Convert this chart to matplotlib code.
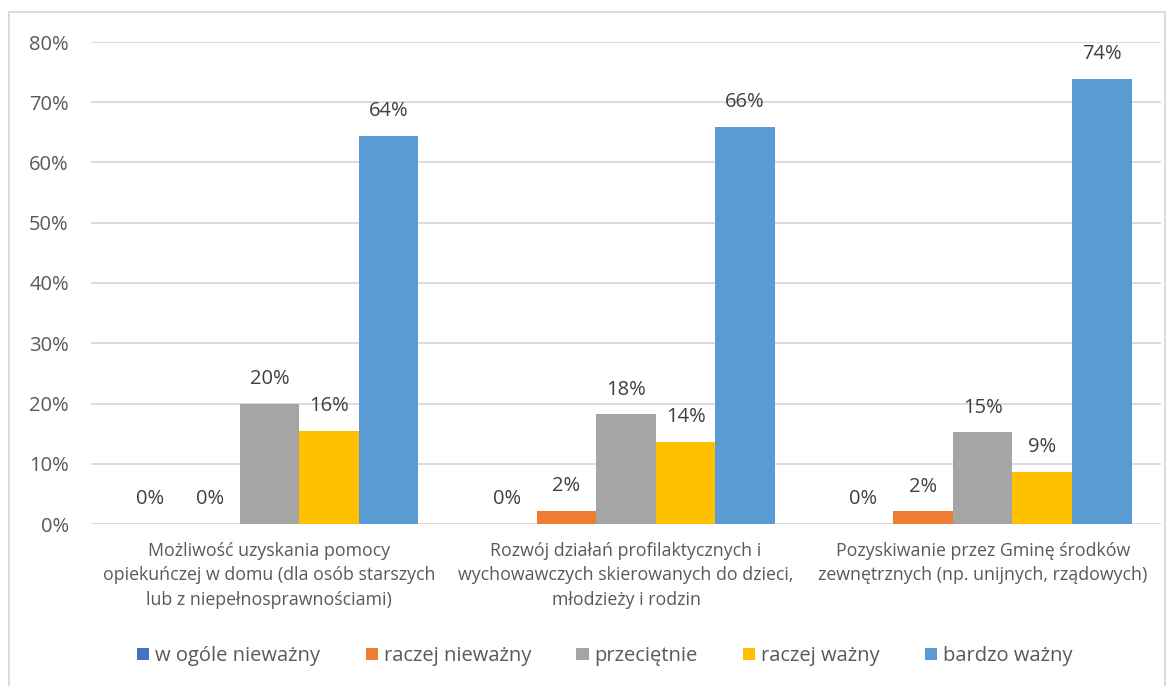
import matplotlib.pyplot as plt
import numpy as np
from matplotlib.patches import Rectangle

categories = [
    "Możliwość uzyskania pomocy\nopiekuńczej w domu (dla osób starszych\nlub z niepełnosprawnościami)",
    "Rozwój działań profilaktycznych i\nwychowawczych skierowanych do dzieci,\nmłodzieży i rodzin",
    "Pozyskiwanie przez Gminę środków\nzewnętrznych (np. unijnych, rządowych)",
]
series = ["w ogóle nieważny", "raczej nieważny", "przeciętnie", "raczej ważny", "bardzo ważny"]
values = [
    [0.0, 0.0, 0.0],        # w ogóle nieważny
    [0.0, 2.2, 2.1],        # raczej nieważny
    [20.0, 18.2, 15.2],     # przeciętnie
    [15.5, 13.6, 8.7],      # raczej ważny
    [64.4, 65.9, 73.9],     # bardzo ważny
]
colors = ["#4472C4", "#ED7D31", "#A5A5A5", "#FFC000", "#5B9BD5"]

plt.rcParams['font.family'] = ['Open Sans', 'DejaVu Sans']

fig = plt.figure(figsize=(11.73, 6.86), dpi=100)
# plot area: x 91..1161 px, y 42..524 px
ax = fig.add_axes([91 / 1173, 1 - 524 / 686, 1070 / 1173, 482 / 686])

x = np.arange(len(categories))
w = 0.167
for i, (name, vals, c) in enumerate(zip(series, values, colors)):
    pos = x + (i - 2) * w
    ax.bar(pos, np.array(vals) / 100, w, color=c, label=name, zorder=2)
    for p, v in zip(pos, vals):
        ax.text(p, v / 100 + 0.041, f"{v:.0f}%", ha='center', va='center',
                fontsize=14.5, color='#404040')

ax.set_ylim(0, 0.8)
ax.set_xlim(-0.5, 2.5)
ticks = np.arange(0, 0.81, 0.1)
ax.set_yticks(ticks)
ax.set_yticklabels([f"{int(round(t * 100))}%" for t in ticks],
                   fontsize=14.5, color='#595959')
ax.set_xticks(x)
ax.set_xticklabels(categories, fontsize=12.8, color='#595959', linespacing=1.45)
ax.tick_params(axis='y', length=0, pad=16)
ax.tick_params(axis='x', length=0, pad=13)
ax.grid(axis='y', color='#D9D9D9', linewidth=1.3, zorder=0)
for s in ax.spines.values():
    s.set_visible(False)

fig.legend(loc='center', bbox_to_anchor=(605 / 1173, 1 - 656 / 686), ncol=5, frameon=False,
           fontsize=14.5, handlelength=0.6, handleheight=0.6, handletextpad=0.3,
           columnspacing=2.25, labelcolor='#595959')

fig.patches.append(Rectangle((9 / 1173, -0.02), 1156 / 1173, 1 - 12 / 686 + 0.02,
                             transform=fig.transFigure, fill=False,
                             edgecolor='#D9D9D9', linewidth=1.3))

plt.savefig('out.png', dpi=100)
